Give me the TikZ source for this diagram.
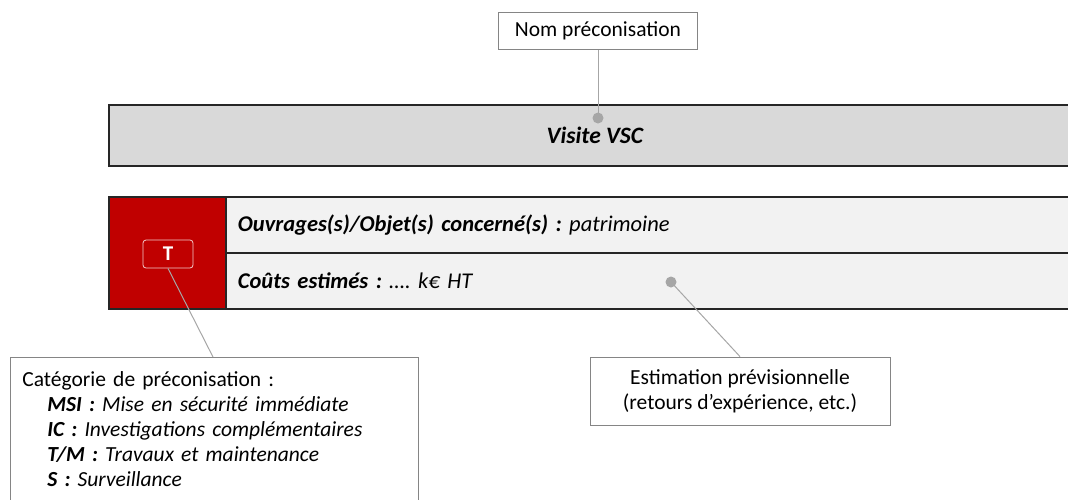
\documentclass[tikz,border=0pt]{standalone}
\usepackage{fontspec}
\setmainfont{Carlito}
\usepackage{tikz}
\usetikzlibrary{positioning}
\frenchspacing
\definecolor{barfill}{HTML}{D9D9D9}
\definecolor{rowfill}{HTML}{F2F2F2}
\definecolor{catred}{HTML}{C00000}
\definecolor{leader}{HTML}{A6A6A6}
\tikzstyle{callout} = [draw=leader!80!black, fill=white, line width=0.8pt, font=\fontsize{21.5}{25}\selectfont]
\tikzstyle{band} = [draw=black!85, line width=1.8pt, rectangle, anchor=north west, inner sep=0pt]
\tikzstyle{rowbox} = [band, fill=rowfill, minimum width=860, minimum height=56, text width=836, inner xsep=12pt, align=left, font=\fontsize{22.5}{26}\selectfont]
\tikzstyle{dotmark} = [circle, fill=leader, inner sep=0pt, minimum size=11]
\tikzstyle{leaderline} = [draw=leader, line width=1pt]

\begin{document}
\begin{tikzpicture}[x=1pt, y=-1pt]
    \useasboundingbox (0,0) rectangle (1068,499);
    % We start by placing the bars
    \node [band, fill=barfill, minimum width=972, minimum height=61, font=\fontsize{23.5}{26}\selectfont\bfseries\itshape] (bar) at (108,104) {Visite VSC};
    \node [band, fill=catred, minimum width=117, minimum height=112] (cat) at (108,196) {};
    \node [rowbox] (ouvrages) at (225,196) {\textbf{\textit{Ouvrages(s)/Objet(s) concerné(s) :}} \textit{patrimoine}};
    \node [rowbox] (couts) at (225,252) {\textbf{\textit{Coûts estimés :}} \textit{…. k€ HT}};
    \node [draw=white!80!catred, line width=0.8pt, rounded corners=3pt, minimum width=50, minimum height=28, inner sep=0pt, text=white, font=\fontsize{21}{24}\selectfont\bfseries] (badge) at (168,254) {T};

    % then the callouts
    \node [callout, minimum width=199, minimum height=37] (nom) at (598,31) {Nom préconisation};
    \node [dotmark] (dotnom) at (598,118) {};
    \node [dotmark] (dotcouts) at (671,282) {};
    \node [callout, minimum width=300, minimum height=68, align=center] (estim) at (740,391) {Estimation prévisionnelle\\(retours d’expérience, etc.)};
    \node [callout, anchor=north west, text width=384, inner xsep=12pt, inner ysep=14pt, align=left] (categ) at (10,357) {Catégorie de préconisation :\\
        \hspace*{25pt}\textit{\textbf{MSI :} Mise en sécurité immédiate}\\
        \hspace*{25pt}\textit{\textbf{IC :} Investigations complémentaires}\\
        \hspace*{25pt}\textit{\textbf{T/M :} Travaux et maintenance}\\
        \hspace*{25pt}\textit{\textbf{S :} Surveillance}\\[6pt]};
    \coordinate (catin) at (213,357);

    \draw [leaderline] (nom.south) -- (dotnom.center);
    \draw [leaderline] (badge.south) -- (catin);
    \draw [leaderline] (dotcouts.center) -- (estim.north);
\end{tikzpicture}
\end{document}
